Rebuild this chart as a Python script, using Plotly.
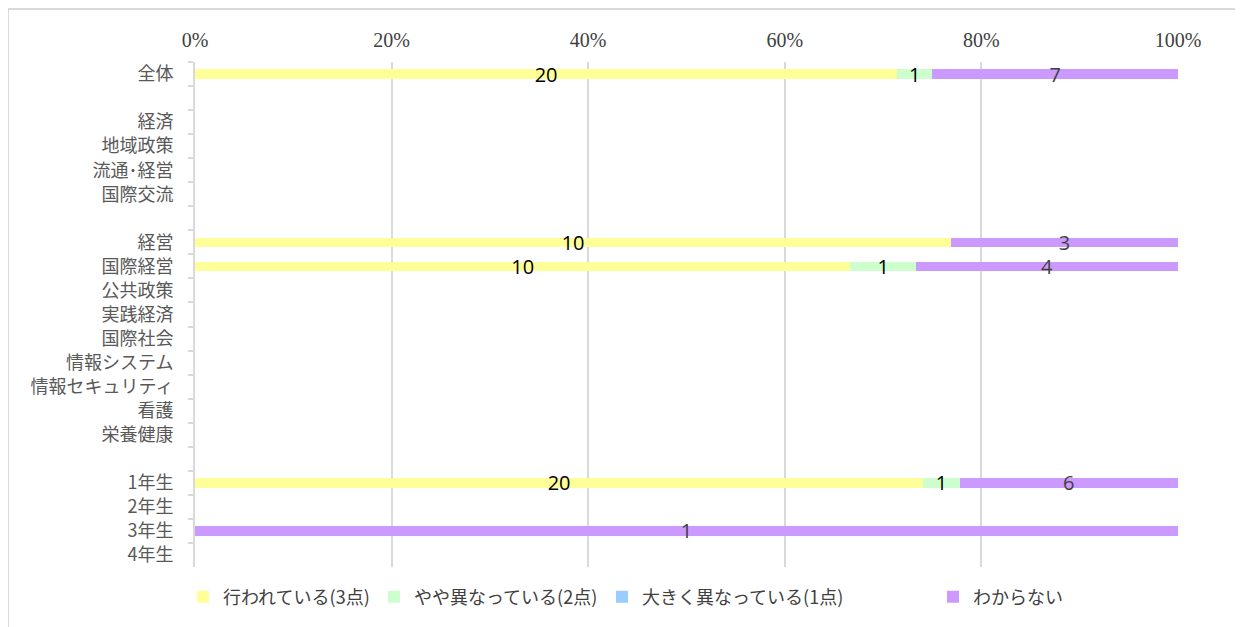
import plotly.graph_objects as go

categories = ["全体", " ", "経済", "地域政策", "流通･経営", "国際交流", "  ",
              "経営", "国際経営", "公共政策", "実践経済", "国際社会", "情報システム",
              "情報セキュリティ", "看護", "栄養健康", "   ",
              "1年生", "2年生", "3年生", "4年生"]

series_names = ["行われている(3点)", "やや異なっている(2点)", "大きく異なっている(1点)", "わからない"]

s3 = [20, 0, 0, 0, 0, 0, 0, 10, 10, 0, 0, 0, 0, 0, 0, 0, 0, 20, 0, 0, 0]
s2 = [1, 0, 0, 0, 0, 0, 0, 0, 1, 0, 0, 0, 0, 0, 0, 0, 0, 1, 0, 0, 0]
s1 = [0, 0, 0, 0, 0, 0, 0, 0, 0, 0, 0, 0, 0, 0, 0, 0, 0, 0, 0, 0, 0]
s0 = [7, 0, 0, 0, 0, 0, 0, 3, 4, 0, 0, 0, 0, 0, 0, 0, 0, 6, 0, 1, 0]

colors = ["#FFFF99", "#CCFFCC", "#99CCFF", "#CC99FF"]
text_colors = ["#000000", "#000000", "#000000", "#404040"]
legend_ids = ["legend2", "legend3", "legend4", "legend5"]
# page body has an 8px offset; coordinates below are figure coordinates
legend_px = [175, 366, 594, 925]

W, H = 1243, 627
L, R, T, B = 187, 73, 54, 68
PH = H - T - B

fig = go.Figure()
for name, vals, col, tcol, lid in zip(series_names, [s3, s2, s1, s0], colors, text_colors, legend_ids):
    fig.add_trace(go.Bar(
        y=categories, x=vals, name=name, orientation="h",
        marker=dict(color=col, line=dict(width=0)),
        text=[str(v) if v else "" for v in vals],
        textposition="inside", insidetextanchor="middle", textangle=0,
        constraintext="none",
        textfont=dict(family="Open Sans", size=20, color=tcol),
        cliponaxis=False,
        legend=lid,
        hoverinfo="x+y+name",
    ))

legend_common = dict(orientation="h", xref="container", yref="container",
                     y=1 - 589 / H, yanchor="middle", xanchor="left",
                     font=dict(family="Noto Sans CJK JP", size=18, color="#404040"),
                     itemwidth=30, bgcolor="rgba(0,0,0,0)")
layout_legends = {}
for lid, px in zip(legend_ids, legend_px):
    layout_legends[lid] = dict(legend_common, x=px / W)

fig.update_layout(
    barmode="stack", barnorm="fraction", bargap=0.6,
    width=W, height=H,
    margin=dict(l=L, r=R, t=T, b=B, autoexpand=False),
    paper_bgcolor="white", plot_bgcolor="white",
    showlegend=True,
    xaxis=dict(side="top", range=[0, 1], tickvals=[0, 0.2, 0.4, 0.6, 0.8, 1.0],
               ticktext=["0%", "20%", "40%", "60%", "80%", "100%"],
               showgrid=True, gridcolor="#D9D9D9", gridwidth=2,
               zeroline=False, showline=False, ticks="", automargin=False,
               ticklabelstandoff=10,
               tickfont=dict(family="Liberation Serif", size=20, color="#404040"),
               fixedrange=True),
    yaxis=dict(autorange="reversed", type="category",
               showline=True, linecolor="#D9D9D9", linewidth=2,
               ticks="outside", tickson="boundaries", ticklen=5, tickcolor="#D9D9D9",
               tickwidth=2, showgrid=False, automargin=False,
               ticklabelstandoff=16,
               tickfont=dict(family="Noto Sans CJK JP", size=18, color="#595959"),
               fixedrange=True),
    shapes=[dict(type="rect", xref="paper", yref="paper",
                 x0=(0 - L) / (W - L - R), x1=1.2, y0=-0.3, y1=(H - B - 1) / PH,
                 line=dict(color="#D9D9D9", width=2), fillcolor="rgba(0,0,0,0)",
                 layer="below")],
    **layout_legends,
)

fig.write_html("out.html")
